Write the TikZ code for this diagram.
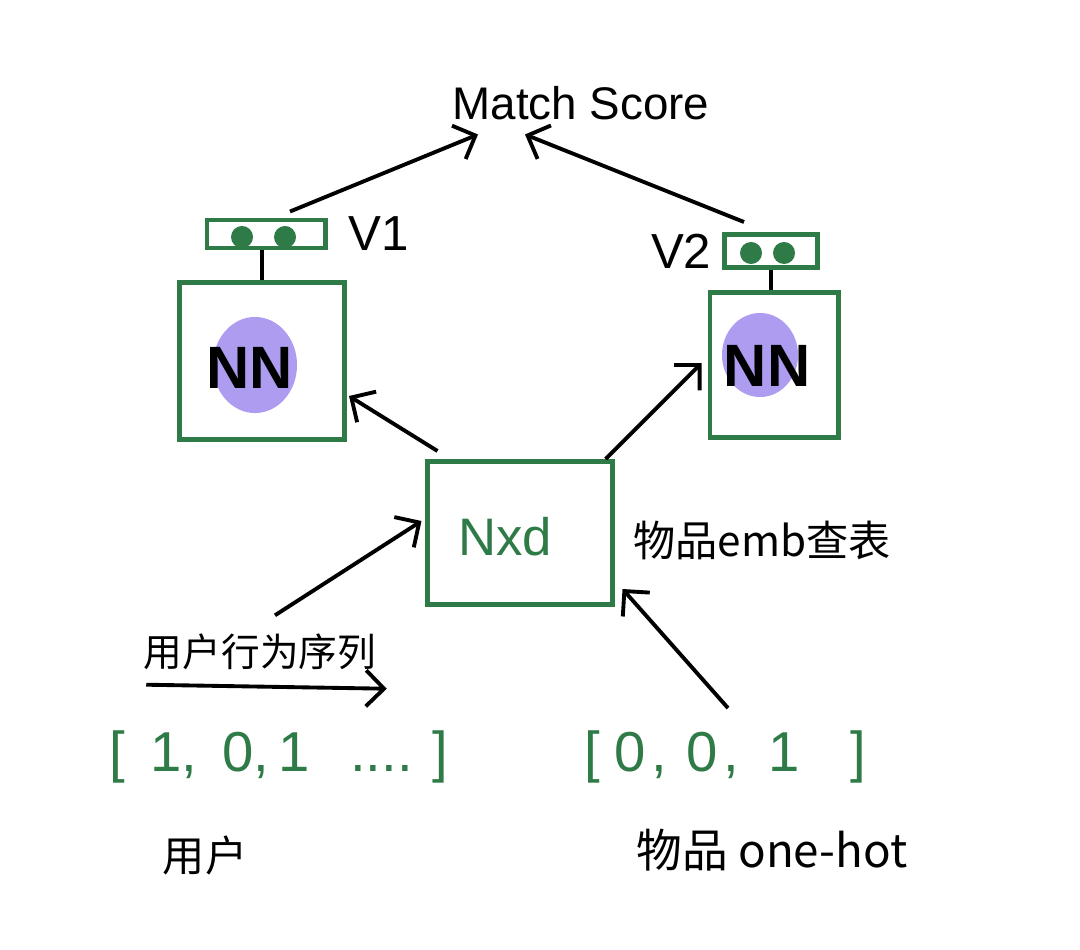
\documentclass[tikz,border=0pt]{standalone}
\usepackage{fontspec}
\setmainfont{Liberation Sans}
\newfontfamily\cjk{Noto Sans CJK SC}
\usetikzlibrary{arrows.meta,positioning,calc,shapes.geometric}
\definecolor{SketchGreen}{HTML}{2E7B47}
\definecolor{SketchPurple}{HTML}{AE9CF0}

\begin{document}
\begin{tikzpicture}[x=0.01cm,y=-0.01cm,node distance=2mm,
    every node/.style={align=center,inner sep=0pt},
    box/.style={draw=SketchGreen,line width=1.4pt},
    dot/.style={circle,fill=SketchGreen,minimum size=0.22cm},
    blob/.style={ellipse,fill=SketchPurple},
    arr/.style={-{Straight Barb[length=1.8mm,width=3.6mm]},line width=1.1pt}]
    \useasboundingbox (0,0) rectangle (1080,949);
    % score and the two towers
    \node[font=\fontsize{13}{16}\selectfont] (score) at (581,103) {Match Score};
    \node[box,minimum width=1.18cm,minimum height=0.28cm] (vec1) at (266,234) {};
    \node[box,minimum width=0.93cm,minimum height=0.33cm] (vec2) at (771,251) {};
    \node[dot] (d11) at ($(vec1.center)+(-24,3)$) {};
    \node[dot] (d12) at ($(vec1.center)+(19,3)$) {};
    \node[dot] (d21) at ($(vec2.center)+(-20,2)$) {};
    \node[dot] (d22) at ($(vec2.center)+(13,2)$) {};
    \node[font=\fontsize{14}{17}\selectfont,right=2mm of vec1] (v1) {V1};
    \node[font=\fontsize{14}{17}\selectfont,left=1mm of vec2] (v2) {V2};
    \node[box,minimum width=1.65cm,minimum height=1.57cm] (nn1) at (262,361) {};
    \node[box,minimum width=1.28cm,minimum height=1.44cm] (nn2) at (774,365) {};
    \node[blob,minimum width=0.84cm,minimum height=0.96cm] (blob1) at (255,365) {};
    \node[blob,minimum width=0.76cm,minimum height=0.84cm] (blob2) at (760,355) {};
    \node[font=\fontsize{17}{20}\selectfont\bfseries] (nntext1) at (250,368) {NN};
    \node[font=\fontsize{17}{20}\selectfont\bfseries] (nntext2) at (767,366) {NN};
    % lookup table
    \node[box,minimum width=1.84cm,minimum height=1.43cm] (emb) at (520,533) {};
    \node[font=\fontsize{15}{18}\selectfont,text=SketchGreen] (embtext) at (505,537) {Nxd};
    \node[font=\cjk\fontsize{12}{14}\selectfont] (embname) at (762,540) {物品emb查表};
    % inputs
    \node[font=\cjk\fontsize{11}{13}\selectfont] (seq) at (260,652) {用户行为序列};
    \node[font=\fontsize{16}{19}\selectfont,text=SketchGreen] (uservec) at (279,757)
      {[\hspace{0.25cm}1,\hspace{0.25cm}0,\hspace{0.1cm}1\hspace{0.4cm}....\hspace{0.2cm}]};
    \node[font=\fontsize{16}{19}\selectfont,text=SketchGreen] (itemvec) at (725,757)
      {[\hspace{0.15cm}0\hspace{0.05cm},\hspace{0.2cm}0\hspace{0.05cm},\hspace{0.3cm}1\hspace{0.5cm}]};
    \node[font=\cjk\fontsize{12}{14}\selectfont] (user) at (205,855) {用户};
    \node[font=\cjk\fontsize{13}{15}\selectfont] (item) at (772,850) {物品 one-hot};
    \coordinate (scoreL) at ($(score.south)+(-103,14)$);
    \coordinate (scoreR) at ($(score.south)+(-56,14)$);
    % connectors
    \draw[line width=1.1pt] (nn1.north) -- (nn1.north |- vec1.south);
    \draw[line width=1.1pt] (vec2.south) -- (vec2.south |- nn2.north);
    \draw[arr] ($(vec1.north)+(24,-6)$) -- (scoreL);
    \draw[arr] ($(vec2.north west)+(22,-10)$) -- (scoreR);
    \draw[arr] ($(emb.north west)+(12,-8)$) -- ($(nn1.south east)+(2,-46)$);
    \draw[arr] ($(emb.north east)+(-9,0)$) -- ($(nn2.west)+(-6,-2)$);
    \draw[arr] ($(seq.north)+(15,-18)$) -- ($(emb.west)+(-4,-12)$);
    \draw[arr] ($(itemvec.north)+(3,-22)$) -- ($(emb.south east)+(8,-18)$);
    \draw[arr] ($(seq.south west)+(3,14)$) -- ($(seq.south east)+(10,18)$);
\end{tikzpicture}
\end{document}
